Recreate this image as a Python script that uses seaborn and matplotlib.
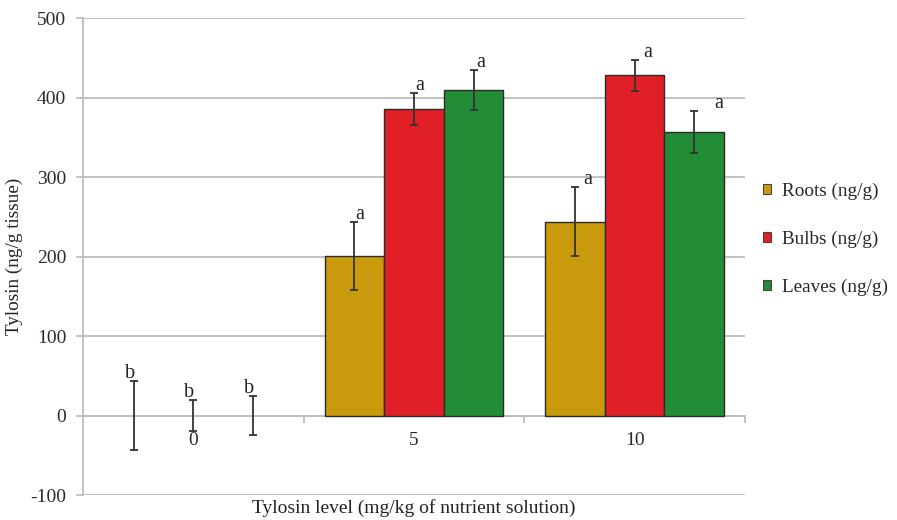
import pandas as pd
import matplotlib
matplotlib.use("Agg")
import matplotlib.pyplot as plt
from matplotlib.patches import Patch
from matplotlib.container import BarContainer
from matplotlib.ticker import MultipleLocator, FixedLocator
import seaborn as sns

levels = ["0", "5", "10"]
tissues = ["Roots (ng/g)", "Bulbs (ng/g)", "Leaves (ng/g)"]
roots = [0, 201, 244]
bulbs = [0, 386, 428]
leaves = [0, 410, 357]
roots_err = [43, 43, 43]
bulbs_err = [20, 20, 20]
leaves_err = [25, 25, 26]
roots_let = ["b", "a", "a"]
bulbs_let = ["b", "a", "a"]
leaves_let = ["b", "a", "a"]

colors = ["#C99A0C", "#E11F26", "#228C36"]

rows = []
for t, vals in zip(tissues, [roots, bulbs, leaves]):
    for lv, v in zip(levels, vals):
        rows.append({"level": lv, "tissue": t, "value": v})
df = pd.DataFrame(rows)

sns.set_style("white")
plt.rcParams["font.family"] = ["Liberation Serif", "DejaVu Serif"]
plt.rcParams["axes.unicode_minus"] = False

fig = plt.figure(figsize=(8.97, 5.2), dpi=100)
ax = fig.add_axes([0.0925, 0.048, 0.738, 0.917])

sns.barplot(data=df, x="level", y="value", hue="tissue", hue_order=tissues,
            order=levels, palette=colors, saturation=1, width=0.81,
            errorbar=None, edgecolor="#2b2b2b", linewidth=1.0, legend=False,
            ax=ax, zorder=3)

vals_all = [roots, bulbs, leaves]
errs = [roots_err, bulbs_err, leaves_err]
lets = [roots_let, bulbs_let, leaves_let]
# letter offsets in pixels (x) per tissue, per level
label_dx = [[-9, 1, 8], [-9, 1, 9], [-9, 3, 20]]
bar_conts = [c for c in ax.containers if isinstance(c, BarContainer)]
for ci, cont in enumerate(bar_conts):
    bars = [b for b in cont.patches if b is not None]
    for b in bars:
        if b.get_height() == 0:
            b.set_linewidth(0)
    # dodge offset of this hue level, taken from the drawn bars
    ref = bars[-1]
    rc = ref.get_x() + ref.get_width() / 2
    off = rc - round(rc)
    for li in range(len(levels)):
        xc = li + off
        h = vals_all[ci][li]
        e = errs[ci][li]
        ax.errorbar(xc, h, yerr=e, fmt="none", ecolor="#333333",
                    elinewidth=1.3, capsize=3, capthick=1.3, zorder=4)
        ax.annotate(lets[ci][li], (xc, h + e), xytext=(label_dx[ci][li], 3),
                    textcoords="offset pixels", ha="left", va="baseline",
                    fontsize=14.5, color="#222222", zorder=5)

ax.set_ylim(-100, 500)
ax.set_xlim(-0.5, 2.5)
ax.yaxis.set_major_locator(MultipleLocator(100))
ax.grid(axis="y", color="#BDBDBD", linewidth=1.3, zorder=0)
ax.set_axisbelow(True)

for s in ["top", "right"]:
    ax.spines[s].set_visible(False)
ax.spines["left"].set_color("#BDBDBD")
ax.spines["left"].set_linewidth(1.3)
ax.spines["bottom"].set_position(("data", 0))
ax.spines["bottom"].set_color("#BDBDBD")
ax.spines["bottom"].set_linewidth(1.3)

ax.tick_params(axis="y", length=5, width=1.3, color="#BDBDBD", pad=7,
               labelsize=14, labelcolor="#2a2a2a", left=True)
ax.tick_params(axis="x", which="major", length=0, pad=12, labelsize=14,
               labelcolor="#2a2a2a")
ax.xaxis.set_minor_locator(FixedLocator([0.5, 1.5, 2.5]))
ax.tick_params(axis="x", which="minor", length=5, width=1.3,
               color="#BDBDBD", bottom=True)

ax.set_xlabel("Tylosin level (mg/kg of nutrient solution)", fontsize=14,
              color="#222222")
ax.xaxis.set_label_coords(0.5, -0.008)
ax.set_ylabel("Tylosin (ng/g tissue)", fontsize=13.8, color="#222222")
ax.yaxis.set_label_coords(-0.103, 0.5)
ax.yaxis.label.set_verticalalignment("center")

handles = [Patch(facecolor=c, edgecolor="#444444", linewidth=0.8) for c in colors]
ax.legend(handles, tissues, loc="center left", bbox_to_anchor=(1.015, 0.537),
          frameon=False, fontsize=13.8, handlelength=0.45, handleheight=0.45,
          handletextpad=0.55, labelspacing=1.6, borderaxespad=0)

fig.savefig("out.png", dpi=100)
